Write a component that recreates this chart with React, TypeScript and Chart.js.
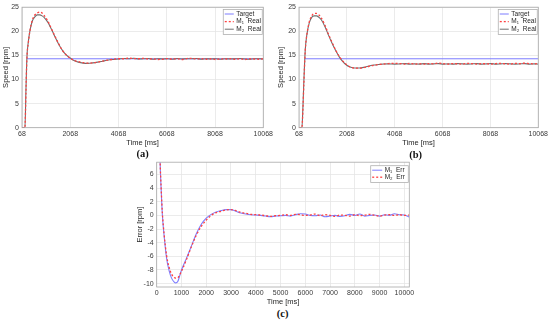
import React, { useEffect, useRef } from "react";
import { Chart, registerables } from "chart.js";
Chart.register(...registerables);

const FONT = "'Liberation Sans', Arial, Helvetica, sans-serif";
const TEXT = "#262626";

// ---------- data: speed panels (a) and (b) ----------
const speedTime = [68, 190, 230, 270, 330, 400, 500, 600, 700, 800,
  900, 1000, 1150, 1300, 1450, 1600, 1750, 1900, 2050, 2200,
  2400, 2600, 2800, 3000, 3200, 3400, 3600, 3800, 4068, 4300,
  4500, 4700, 4900, 5100, 5300, 5500, 5700, 5900, 6100, 6300,
  6500, 6700, 6900, 7100, 7300, 7500, 7700, 7900, 8100, 8300,
  8500, 8700, 8900, 9100, 9300, 9500, 9700, 9900, 10068];

const targetTimeA = [270, 10068];
const targetA = [14.3, 14.3];
const m1RealA = [0, 0, 7, 14.2, 17.6, 20.2, 22.4, 23.4, 23.8, 24.0,
  23.8, 23.2, 22.0, 20.4, 18.8, 17.3, 16.0, 15.1, 14.5, 14.0,
  13.7, 13.5, 13.4, 13.45, 13.6, 13.8, 14.0, 14.15, 14.3, 14.3,
  14.45, 14.35, 14.3, 14.4, 14.25, 14.3, 14.15, 14.2, 14.35, 14.25,
  14.3, 14.15, 14.35, 14.4, 14.25, 14.35, 14.2, 14.3, 14.15, 14.3,
  14.25, 14.35, 14.2, 14.3, 14.15, 14.3, 14.25, 14.2, 14.3];
const m2RealA = [0, 0, 7.5, 14.4, 17.8, 20.2, 22.2, 23.0, 23.4, 23.4,
  23.2, 22.8, 21.8, 20.3, 18.7, 17.2, 16.0, 15.1, 14.5, 14.0,
  13.6, 13.4, 13.35, 13.45, 13.6, 13.8, 14.0, 14.15, 14.25, 14.35,
  14.3, 14.4, 14.25, 14.3, 14.35, 14.2, 14.3, 14.25, 14.3, 14.2,
  14.35, 14.25, 14.3, 14.3, 14.35, 14.2, 14.3, 14.25, 14.3, 14.2,
  14.3, 14.25, 14.3, 14.35, 14.25, 14.2, 14.3, 14.3, 14.25];

const targetTimeB = [310, 10068];
const targetB = [14.3, 14.3];
const m1RealB = [0, 0, 3.5, 9, 16, 19.4, 22.0, 23.2, 23.7, 23.7,
  23.4, 22.8, 21.3, 19.4, 17.7, 16.1, 14.8, 13.8, 13.1, 12.6,
  12.35, 12.35, 12.5, 12.75, 12.95, 13.1, 13.2, 13.3, 13.35, 13.3,
  13.2, 13.35, 13.2, 13.3, 13.2, 13.3, 13.25, 13.4, 13.3, 13.2,
  13.3, 13.25, 13.2, 13.35, 13.3, 13.2, 13.3, 13.25, 13.2, 13.3,
  13.35, 13.25, 13.2, 13.35, 13.3, 13.4, 13.3, 13.25, 13.3];
const m2RealB = [0, 0, 4, 9.5, 16.2, 19.4, 21.8, 22.9, 23.2, 23.2,
  22.9, 22.4, 21.0, 19.2, 17.5, 16.0, 14.7, 13.7, 13.0, 12.6,
  12.4, 12.4, 12.55, 12.8, 13.0, 13.1, 13.2, 13.25, 13.2, 13.25,
  13.3, 13.2, 13.25, 13.2, 13.3, 13.2, 13.25, 13.3, 13.2, 13.25,
  13.2, 13.3, 13.25, 13.2, 13.25, 13.3, 13.2, 13.25, 13.3, 13.2,
  13.25, 13.3, 13.25, 13.2, 13.25, 13.3, 13.2, 13.25, 13.2];

// ---------- data: error panel (c) ----------
const errTime = [0, 100, 140, 180, 230, 300, 400, 500, 600, 700,
  770, 850, 1000, 1200, 1400, 1600, 1800, 2000, 2200, 2400,
  2600, 2800, 3000, 3200, 3400, 3600, 3800,
  4000, 4200, 4400, 4600, 4800, 5000, 5200, 5400, 5600, 5800,
  6000, 6200, 6400, 6600, 6800, 7000, 7200, 7400, 7600, 7800,
  8000, 8200, 8400, 8600, 8800, 9000, 9200, 9400, 9600, 9800,
  10000, 10200];
const m1Err = [14.3, 14.3, 7.5, 3.8, 0, -3.0, -6.3, -8.1, -9.2, -9.75,
  -9.9, -9.7, -8.0, -6.3, -4.5, -2.7, -1.3, -0.4, 0.15, 0.5,
  0.7, 0.85, 0.85, 0.6, 0.35, 0.2, 0.1,
  0.05, 0.0, -0.1, -0.2, -0.1, -0.05, 0.0, -0.1, 0.1, 0.25,
  0.2, 0.0, -0.05, 0.05, -0.2, -0.1, 0.0, -0.15, -0.05, 0.15,
  0.0, 0.2, -0.1, 0.0, 0.05, -0.1, 0.1, 0.0, 0.25, 0.1,
  0.05, -0.25];
const m2Err = [14.3, 14.3, 7.8, 4.0, 0.3, -2.8, -5.9, -7.6, -8.6, -9.1,
  -9.2, -9.15, -8.2, -6.5, -4.6, -2.9, -1.6, -0.7, 0.0, 0.4,
  0.6, 0.8, 0.85, 0.7, 0.45, 0.3, 0.15,
  0.1, 0.05, -0.05, -0.15, -0.05, 0.0, 0.1, 0.0, 0.15, 0.1,
  0.0, 0.05, 0.2, -0.05, 0.1, 0.0, -0.15, 0.05, 0.0, -0.1,
  0.1, -0.05, 0.05, 0.15, 0.0, -0.1, 0.05, 0.1, 0.0, 0.1,
  0.0, 0.05];

// ---------- ticks & labels ----------
const speedXTicks = [68, 2068, 4068, 6068, 8068, 10068];
const speedYTicks = [0, 5, 10, 15, 20, 25];
const errXTicks = [0, 1000, 2000, 3000, 4000, 5000, 6000, 7000, 8000, 9000, 10000];
const errYTicks = [-10, -8, -6, -4, -2, 0, 2, 4, 6];
const speedLegend = ["Target", "M\u2081  Real", "M\u2082  Real"];
const errLegend = ["M\u2081  Err", "M\u2082  Err"];

const BLUE = "#7d7dff";
const RED = "#ff4040";
const GRAY = "#6e6e6e";

const pts = (xs: number[], ys: number[]) => xs.map((x, i) => ({ x, y: ys[i] }));

const framePlugin = {
  id: "frameLegend",
  afterDraw(chart: any, _args: any, opts: any) {
    const { ctx, chartArea: ca } = chart;
    ctx.save();
    ctx.strokeStyle = "#a8a8a8";
    ctx.lineWidth = 0.8;
    ctx.strokeRect(ca.left, ca.top, ca.right - ca.left, ca.bottom - ca.top);
    const L = opts && opts.legend;
    if (L) {
      const x = ca.right - L.right - L.w;
      const y = ca.top + L.top;
      ctx.fillStyle = "#fff";
      ctx.fillRect(x, y, L.w, L.h);
      ctx.strokeStyle = "#b0b0b0";
      ctx.lineWidth = 0.8;
      ctx.strokeRect(x, y, L.w, L.h);
      L.items.forEach((it: any, i: number) => {
        const yy = y + L.first + i * L.gap;
        ctx.strokeStyle = it.color;
        ctx.lineWidth = it.width;
        ctx.setLineDash(it.dash || []);
        ctx.beginPath();
        ctx.moveTo(x + L.lx0, yy);
        ctx.lineTo(x + L.lx1, yy);
        ctx.stroke();
        ctx.setLineDash([]);
        ctx.fillStyle = TEXT;
        ctx.font = `${L.size}px ${FONT}`;
        ctx.textBaseline = "middle";
        ctx.textAlign = "left";
        ctx.fillText(it.label, x + L.tx, yy);
      });
    }
    ctx.restore();
  },
};

type PanelProps = {
  left: number; top: number; width: number; height: number;
  yW: number; xH: number; padR: number; padT: number;
  xMin: number; xMax: number; yMin: number; yMax: number;
  xTicks: number[]; yTicks: number[];
  xTitle: string; yTitle: string; yTitlePad: number;
  datasets: any[]; legend: any;
};

function Panel(p: PanelProps) {
  const ref = useRef<HTMLCanvasElement | null>(null);
  useEffect(() => {
    if (!ref.current) return;
    const tickFont = { family: FONT, size: 7 };
    const titleFont = { family: FONT, size: 7.5 };
    const chart = new Chart(ref.current, {
      type: "line",
      data: { datasets: p.datasets },
      plugins: [framePlugin],
      options: {
        responsive: false,
        animation: false,
        devicePixelRatio: 1,
        layout: { padding: { left: 0, right: p.padR, top: p.padT, bottom: 0 } },
        elements: { point: { radius: 0 } },
        plugins: {
          legend: { display: false },
          tooltip: { enabled: false },
          frameLegend: { legend: p.legend },
        } as any,
        scales: {
          x: {
            type: "linear",
            min: p.xMin, max: p.xMax,
            afterBuildTicks: (s: any) => { s.ticks = p.xTicks.map((v) => ({ value: v })); },
            afterFit: (s: any) => { s.height = p.xH; },
            ticks: { font: tickFont, color: "#3a3a3a", padding: 2, maxRotation: 0, autoSkip: false, callback: (v: any) => String(v) },
            grid: { color: "#e6e6e6", lineWidth: 0.8, drawTicks: false },
            border: { display: false },
            title: { display: true, text: p.xTitle, font: titleFont, color: TEXT, padding: { top: 0, bottom: 1 } },
          },
          y: {
            type: "linear",
            min: p.yMin, max: p.yMax,
            afterBuildTicks: (s: any) => { s.ticks = p.yTicks.map((v) => ({ value: v })); },
            afterFit: (s: any) => { s.width = p.yW; },
            ticks: { font: tickFont, color: "#3a3a3a", padding: 3, autoSkip: false, callback: (v: any) => String(v) },
            grid: { color: "#e6e6e6", lineWidth: 0.8, drawTicks: false },
            border: { display: false },
            title: { display: true, text: p.yTitle, font: titleFont, color: TEXT, padding: { top: p.yTitlePad, bottom: 0 } },
          },
        },
      } as any,
    });
    return () => chart.destroy();
  }, []);
  return (
    <canvas
      ref={ref}
      width={p.width}
      height={p.height}
      style={{ position: "absolute", left: p.left, top: p.top, width: p.width, height: p.height }}
    />
  );
}

const line = (label: string, xs: number[], ys: number[], color: string, dash: number[] | undefined, width: number, order: number) => ({
  label,
  data: pts(xs, ys),
  borderColor: color,
  borderWidth: width,
  borderDash: dash || [],
  fill: false,
  cubicInterpolationMode: "monotone",
  pointRadius: 0,
  order,
});

const speedLegendBox = (items: any[]) => ({
  right: 1, top: 2.3, w: 39, h: 25, first: 4.5, gap: 7.6, lx0: 1.5, lx1: 10.5, tx: 13, size: 6.5, items,
});

const labelStyle = (cx: number, cy: number): React.CSSProperties => ({
  position: "absolute", left: cx - 20, top: cy - 7, width: 40, height: 14, lineHeight: "14px",
  textAlign: "center", fontFamily: "'Liberation Serif', 'Times New Roman', serif", fontWeight: "bold", fontSize: 10.5, color: "#111",
});

export default function App() {
  const dsA = [
    line(speedLegend[0], targetTimeA, targetA, BLUE, undefined, 1, 2),
    line(speedLegend[1], speedTime, m1RealA, RED, [2, 2], 1.3, 0),
    line(speedLegend[2], speedTime, m2RealA, GRAY, undefined, 1.1, 1),
  ];
  const dsB = [
    line(speedLegend[0], targetTimeB, targetB, BLUE, undefined, 1, 2),
    line(speedLegend[1], speedTime, m1RealB, RED, [2, 2], 1.3, 0),
    line(speedLegend[2], speedTime, m2RealB, GRAY, undefined, 1.1, 1),
  ];
  const dsC = [
    line(errLegend[0], errTime, m1Err, BLUE, undefined, 1.1, 1),
    line(errLegend[1], errTime, m2Err, RED, [2, 2], 1.3, 0),
  ];
  const legItemsSpeed = [
    { label: speedLegend[0], color: BLUE, width: 1 },
    { label: speedLegend[1], color: RED, width: 1.3, dash: [2, 2] },
    { label: speedLegend[2], color: GRAY, width: 1 },
  ];
  const legItemsErr = [
    { label: errLegend[0], color: BLUE, width: 1 },
    { label: errLegend[1], color: RED, width: 1.3, dash: [2, 2] },
  ];
  return (
    <div style={{ position: "fixed", left: 0, top: 0, width: 550, height: 323, background: "#fff", overflow: "hidden" }}>
      <Panel left={0} top={0} width={275} height={148} yW={22} xH={20.3} padR={10.7} padT={6.7}
        xMin={68} xMax={10068} yMin={0} yMax={25} xTicks={speedXTicks} yTicks={speedYTicks}
        xTitle="Time [ms]" yTitle="Speed [rpm]" yTitlePad={1.5} datasets={dsA} legend={speedLegendBox(legItemsSpeed)} />
      <Panel left={275} top={0} width={275} height={148} yW={24} xH={20.3} padR={9} padT={6.7}
        xMin={68} xMax={10068} yMin={0} yMax={25} xTicks={speedXTicks} yTicks={speedYTicks}
        xTitle="Time [ms]" yTitle="Speed [rpm]" yTitlePad={1.5} datasets={dsB} legend={speedLegendBox(legItemsSpeed)} />
      <Panel left={130} top={155} width={290} height={152} yW={26.7} xH={20} padR={10.7} padT={6.5}
        xMin={0} xMax={10200} yMin={-10.5} yMax={7.8} xTicks={errXTicks} yTicks={errYTicks}
        xTitle="Time [ms]" yTitle="Error [rpm]" yTitlePad={5.5} datasets={dsC}
        legend={{ right: 1, top: 3.5, w: 37.6, h: 16.7, first: 4.5, gap: 7, lx0: 1.5, lx1: 11.5, tx: 14, size: 6.5, items: legItemsErr }} />
      <div style={labelStyle(142.7, 154.3)}>(a)</div>
      <div style={labelStyle(415.7, 155)}>(b)</div>
      <div style={labelStyle(282.7, 314.3)}>(c)</div>
    </div>
  );
}
